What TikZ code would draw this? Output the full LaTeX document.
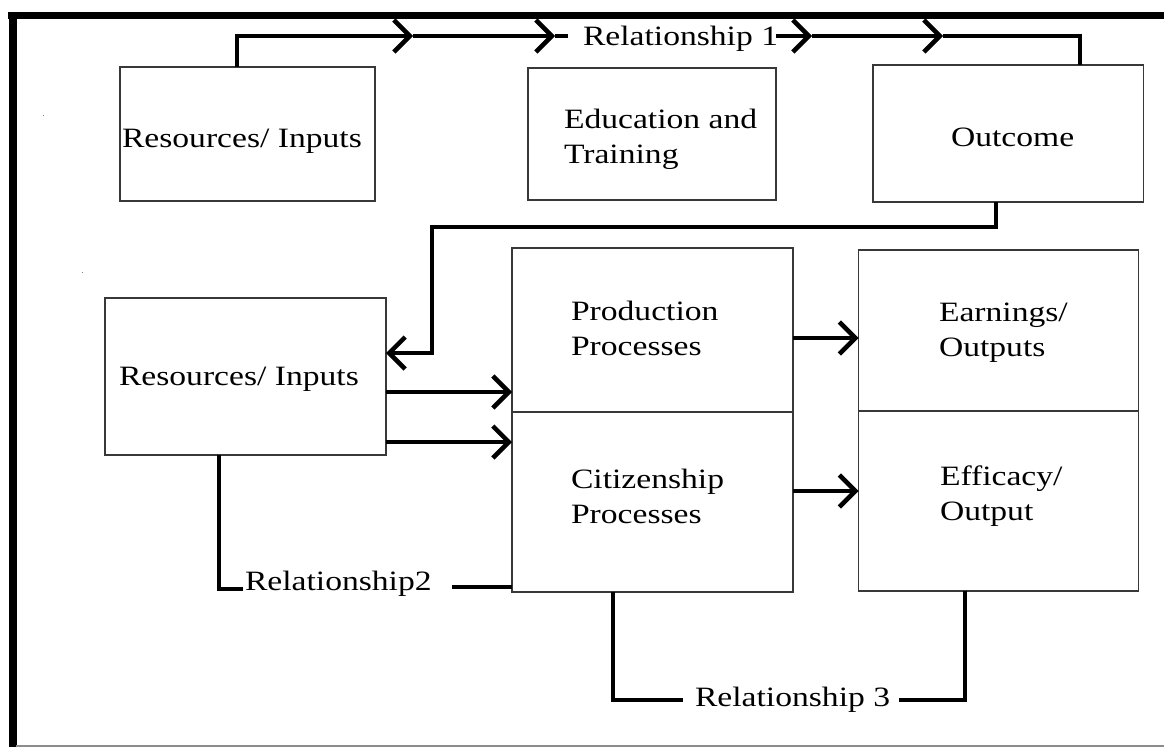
\documentclass[tikz,border=0pt]{standalone}
\usepackage{fontspec}
\setmainfont{Liberation Serif}[FakeStretch=1.2]
\usetikzlibrary{arrows.meta}
\tikzset{
  chev/.tip={Straight Barb[length=16pt,width=32pt,line width=4.5pt]},
  box/.style={draw=black!78, line width=1.4pt, inner sep=0pt, outer sep=0pt},
  txt/.style={inner sep=0pt, outer sep=0pt, font=\fontsize{28}{35}\selectfont, anchor=base west},
  conn/.style={line width=4.8pt, draw=black},
}
\newcommand{\twoline}[2]{\begin{tabular}[t]{@{}l@{}}#1\\#2\end{tabular}}
\begin{document}
\begin{tikzpicture}[x=1pt,y=-1pt]
\useasboundingbox (0,0) rectangle (1164,747);
\fill[white] (0,0) rectangle (1164,747);
% frame
\draw[line width=7pt] (8,15.5) -- (1164,15.5);
\draw[line width=8pt] (12.5,12) -- (12.5,747);
\draw[black!45, line width=2pt] (16,746) -- (1164,746);
% specks
\fill[black!50] (42.5,114.5) rectangle (44,116);
\fill[black!50] (81.5,271.5) rectangle (83,273);
% boxes
\node[box, minimum width=255pt, minimum height=134pt] (r1) at (247.5,134) {};
\node[box, minimum width=248pt, minimum height=132pt] (edu) at (652,134) {};
\node[box, minimum width=270.5pt, minimum height=137pt] (out) at (1008.25,133.5) {};
\node[box, minimum width=281pt, minimum height=157pt] (r2) at (245.5,376.5) {};
\node[box, minimum width=281pt, minimum height=164pt] (prod) at (652.5,330) {};
\node[box, minimum width=281pt, minimum height=180pt] (cit) at (652.5,502) {};
\node[box, minimum width=280pt, minimum height=161pt] (earn) at (998.5,330.5) {};
\node[box, minimum width=280pt, minimum height=180pt] (eff) at (998.5,501) {};
% texts
\node[txt] (r1t) at (122,147) {Resources/ Inputs};
\node[txt] (edut) at (564,128) {\twoline{Education and}{Training}};
\node[txt] (outt) at (951,146) {Outcome};
\node[txt] (r2t) at (119,385) {Resources/ Inputs};
\node[txt] (prodt) at (571,320) {\twoline{Production}{Processes}};
\node[txt] (citt) at (571,488) {\twoline{Citizenship}{Processes}};
\node[txt] (earnt) at (939,321) {\twoline{Earnings/}{Outputs}};
\node[txt] (efft) at (940,485) {\twoline{Efficacy/}{Output}};
\node[txt] (rel1) at (583,45) {Relationship 1};
\node[txt] (rel2) at (245,590) {Relationship2};
\node[txt] (rel3) at (695,706) {Relationship 3};
% relationship 1
\coordinate (t0) at (237,36);
\coordinate (c1) at (413,36);
\coordinate (c2) at (555,36);
\coordinate (c2e) at (568,36);
\coordinate (c3s) at (776,36);
\coordinate (c3) at (812,36);
\coordinate (c4) at (943,36);
\coordinate (t1) at (1080,36);
\draw[conn,-chev] (r1.north -| t0) -- (t0) -- (c1);
\draw[conn,-chev] (c1) -- (c2);
\draw[conn] (c2) -- (c2e);
\draw[conn,-chev] (c3s) -- (c3);
\draw[conn,-chev] (c3) -- (c4);
\draw[conn] (c4) -- (t1) -- (out.north -| t1);
% feedback
\coordinate (o1) at (996,227);
\coordinate (o2) at (432,227);
\coordinate (o3) at (432,353);
\draw[conn,-chev] (out.south -| o1) -- (o1) -- (o2) -- (o3) -- (r2.east |- o3);
% process arrows
\coordinate (ya) at (0,392);
\coordinate (yb) at (0,442);
\coordinate (yc) at (0,338);
\coordinate (yd) at (0,491);
\draw[conn,-chev] (r2.east |- ya) -- (prod.west |- ya);
\draw[conn,-chev] (r2.east |- yb) -- (cit.west |- yb);
\draw[conn,-chev] (prod.east |- yc) -- (earn.west |- yc);
\draw[conn,-chev] (cit.east |- yd) -- (eff.west |- yd);
% relationship 2
\coordinate (q1) at (219,589);
\coordinate (q2) at (243,589);
\coordinate (q3) at (452,587);
\draw[conn] (r2.south -| q1) -- (q1) -- (q2);
\draw[conn] (q3) -- (cit.west |- q3);
% relationship 3
\coordinate (s1) at (613,700);
\coordinate (s2) at (683,700);
\coordinate (s3) at (899,700);
\coordinate (s4) at (965,700);
\draw[conn] (cit.south -| s1) -- (s1) -- (s2);
\draw[conn] (s3) -- (s4) -- (eff.south -| s4);
\end{tikzpicture}
\end{document}
